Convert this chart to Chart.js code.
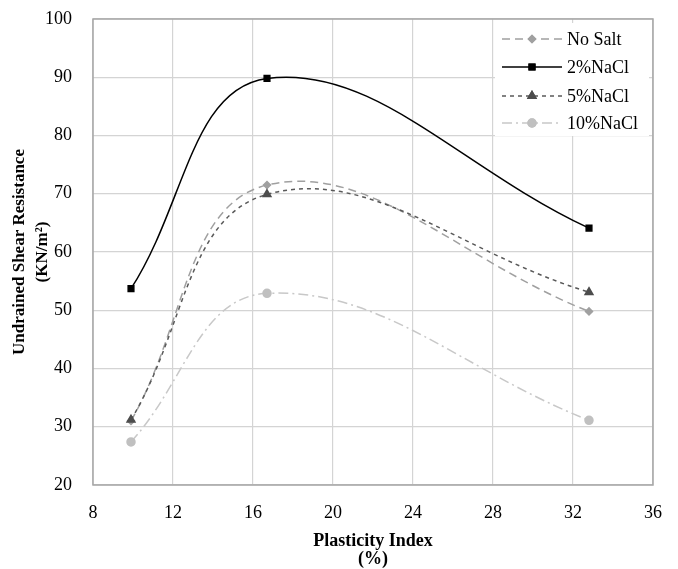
<!DOCTYPE html>
<html>
<head>
<meta charset="utf-8">
<script src="https://cdn.jsdelivr.net/npm/chart.js@4/dist/chart.umd.min.js"></script>
<style>
  html, body { margin: 0; padding: 0; background: #fff; }
  #wrap { width: 678px; height: 569px; }
</style>
</head>
<body>
<div id="wrap"><canvas id="chart" width="678" height="569"></canvas></div>
<script>
// values
var plasticityIndex = [9.9, 16.7, 32.8];
var noSalt = [31.0, 71.5, 49.8];
var nacl2 = [53.7, 89.8, 64.1];
var nacl5 = [31.2, 69.9, 53.1];
var nacl10 = [27.4, 52.9, 31.1];
var seriesNames = ['No Salt', '2%NaCl', '5%NaCl', '10%NaCl'];
var xTicks = [8, 12, 16, 20, 24, 28, 32, 36];
var yTicks = [20, 30, 40, 50, 60, 70, 80, 90, 100];

function pts(ys) {
    var out = [];
    for (var i = 0; i < ys.length; i++) {
        out.push({x: plasticityIndex[i], y: ys[i]});
    }
    return out;
}

var serif = "'Liberation Serif', 'Times New Roman', serif";

// legend drawn inside the plot, top right, like the excel one
var boxLegend = {
    id: 'boxLegend',
    afterDraw: function(chart) {
        var ctx = chart.ctx;
        var a = chart.chartArea;
        ctx.save();
        ctx.fillStyle = '#fff';
        ctx.fillRect(495, 23, 154, 113);
        var rows = [39, 67, 96, 123];
        chart.data.datasets.forEach(function(ds, i) {
            var y = rows[i];
            ctx.strokeStyle = ds.borderColor;
            ctx.lineWidth = ds.borderWidth;
            ctx.setLineDash(ds.borderDash || []);
            ctx.beginPath();
            ctx.moveTo(502, y);
            ctx.lineTo(562, y);
            ctx.stroke();
            ctx.setLineDash([]);
            Chart.helpers.drawPoint(ctx, {
                pointStyle: ds.pointStyle,
                radius: ds.pointRadius,
                borderWidth: 1,
                rotation: 0
            }, 532, y);
            ctx.fillStyle = ds.pointBackgroundColor;
            ctx.strokeStyle = ds.pointBorderColor;
            ctx.fill();
            ctx.stroke();
            ctx.fillStyle = '#000';
            ctx.font = '18px ' + serif;
            ctx.textBaseline = 'middle';
            ctx.textAlign = 'left';
            ctx.fillText(ds.label, 567, y + 1);
        });
        // plot frame
        ctx.strokeStyle = '#a6a6a6';
        ctx.lineWidth = 1.5;
        ctx.strokeRect(a.left, a.top, a.right - a.left, a.bottom - a.top);
        ctx.restore();
    }
};

var ctx = document.getElementById('chart').getContext('2d');
var chart = new Chart(ctx, {
    type: 'line',
    data: {
        datasets: [{
            label: seriesNames[0],
            data: pts(noSalt),
            borderColor: '#a0a0a0',
            borderWidth: 1.5,
            borderDash: [8, 5],
            pointStyle: 'rectRot',
            pointRadius: 3.5,
            pointBackgroundColor: '#a0a0a0',
            pointBorderColor: '#a0a0a0',
            tension: 0.4,
            order: 2
        }, {
            label: seriesNames[1],
            data: pts(nacl2),
            borderColor: '#000',
            borderWidth: 1.5,
            pointStyle: 'rect',
            pointRadius: 4,
            pointBackgroundColor: '#000',
            pointBorderColor: '#000',
            tension: 0.4,
            order: 0
        }, {
            label: seriesNames[2],
            data: pts(nacl5),
            borderColor: '#595959',
            borderWidth: 1.5,
            borderDash: [4, 4],
            pointStyle: 'triangle',
            pointRadius: 4.5,
            pointBackgroundColor: '#4d4d4d',
            pointBorderColor: '#4d4d4d',
            tension: 0.4,
            order: 1
        }, {
            label: seriesNames[3],
            data: pts(nacl10),
            borderColor: '#c8c8c8',
            borderWidth: 1.5,
            borderDash: [10, 4, 2, 4],
            pointStyle: 'circle',
            pointRadius: 4,
            pointBackgroundColor: '#c0c0c0',
            pointBorderColor: '#c0c0c0',
            tension: 0.4,
            order: 3
        }]
    },
    options: {
        responsive: false,
        animation: false,
        layout: { padding: { left: 0, right: 25, top: 19, bottom: 0 } },
        plugins: {
            legend: { display: false },
            tooltip: { enabled: false }
        },
        scales: {
            x: {
                type: 'linear',
                min: xTicks[0],
                max: xTicks[xTicks.length - 1],
                afterBuildTicks: function(s) { s.ticks = xTicks.map(function(v) { return {value: v}; }); },
                afterFit: function(s) { s.height = 84; s.paddingLeft = 0; s.paddingRight = 0; },
                grid: { color: '#d4d4d4', lineWidth: 1.2, drawTicks: false },
                border: { display: false },
                ticks: { padding: 17, color: '#000', maxRotation: 0, font: { family: serif, size: 18 } },
                title: {
                    display: true,
                    text: ['Plasticity Index', '(%)'],
                    color: '#000',
                    padding: { top: 0, bottom: 0 },
                    font: { family: serif, size: 18, weight: 'bold', lineHeight: 1.03 }
                }
            },
            y: {
                type: 'linear',
                min: yTicks[0],
                max: yTicks[yTicks.length - 1],
                afterBuildTicks: function(s) { s.ticks = yTicks.map(function(v) { return {value: v}; }); },
                afterFit: function(s) { s.width = 93; s.paddingTop = 0; s.paddingBottom = 0; },
                grid: { color: '#d4d4d4', lineWidth: 1.2, drawTicks: false },
                border: { display: false },
                ticks: { padding: 21, color: '#000', font: { family: serif, size: 18 } },
                title: {
                    display: true,
                    text: ['Undrained Shear Resistance', '(KN/m\u00b2)'],
                    color: '#000',
                    padding: { top: 8, bottom: 0 },
                    font: { family: serif, size: 17, weight: 'bold', lineHeight: 1.35 }
                }
            }
        }
    },
    plugins: [boxLegend]
});
</script>
</body>
</html>
